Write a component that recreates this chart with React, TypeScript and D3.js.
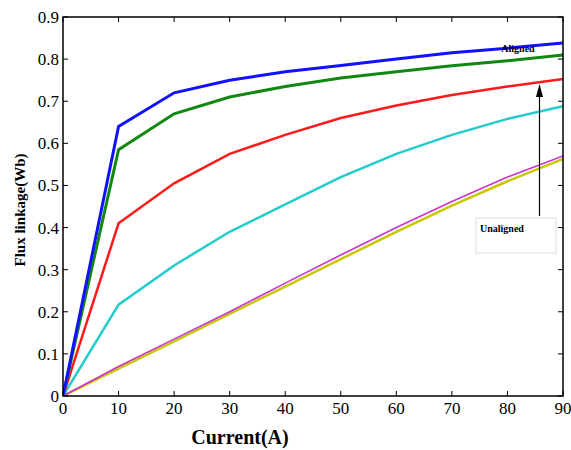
import React from "react";
import * as d3 from "d3";

const currents = [0, 10, 20, 30, 40, 50, 60, 70, 80, 90];
const blueSeries = [0, 0.64, 0.72, 0.75, 0.77, 0.785, 0.8, 0.815, 0.826, 0.838];
const greenSeries = [0, 0.585, 0.67, 0.71, 0.735, 0.755, 0.77, 0.784, 0.796, 0.81];
const redSeries = [0, 0.41, 0.505, 0.575, 0.62, 0.66, 0.69, 0.715, 0.735, 0.753];
const cyanSeries = [0, 0.217, 0.31, 0.39, 0.455, 0.52, 0.575, 0.62, 0.658, 0.688];
const magentaSeries = [0, 0.07, 0.135, 0.2, 0.268, 0.335, 0.4, 0.462, 0.52, 0.57];
const yellowSeries = [0, 0.065, 0.13, 0.195, 0.26, 0.325, 0.39, 0.452, 0.51, 0.563];
const xTicks = [0, 10, 20, 30, 40, 50, 60, 70, 80, 90];
const yTicks = [0, 0.1, 0.2, 0.3, 0.4, 0.5, 0.6, 0.7, 0.8, 0.9];

const series = [
  { values: yellowSeries, color: "#c8c800", width: 2.5 },
  { values: magentaSeries, color: "#cc33cc", width: 1.6 },
  { values: cyanSeries, color: "#22cccc", width: 2.5 },
  { values: redSeries, color: "#ff1a1a", width: 2.5 },
  { values: greenSeries, color: "#118811", width: 3 },
  { values: blueSeries, color: "#1111ff", width: 3 },
];

export default function App() {
  const W = 571, H = 450;
  const left = 63, right = 563, top = 17, bottom = 396;
  const x = d3.scaleLinear().domain([0, 90]).range([left, right]);
  const y = d3.scaleLinear().domain([0, 0.9]).range([bottom, top]);
  const line = d3
    .line<number>()
    .x((_, i) => x(currents[i]))
    .y((d) => y(d));
  const font = "'Liberation Serif', 'DejaVu Serif', serif";
  const tl = 5;
  return (
    <svg width={W} height={H} style={{ position: "absolute", left: 0, top: 0, background: "#fff" }}>
      <rect x={0} y={0} width={W} height={H} fill="#fff" />
      <defs>
        <clipPath id="clip">
          <rect x={left} y={top} width={right - left} height={bottom - top} />
        </clipPath>
      </defs>
      <g clipPath="url(#clip)">
        {series.map((s, i) => (
          <path key={i} d={line(s.values) || ""} fill="none" stroke={s.color} strokeWidth={s.width} />
        ))}
      </g>
      <rect x={left} y={top} width={right - left} height={bottom - top} fill="none" stroke="#000" strokeWidth={1.5} />
      {xTicks.map((t) => (
        <g key={"x" + t}>
          <line x1={x(t)} x2={x(t)} y1={bottom} y2={bottom - tl} stroke="#000" />
          <line x1={x(t)} x2={x(t)} y1={top} y2={top + tl} stroke="#000" />
          <text x={x(t)} y={bottom + 18} textAnchor="middle" fontFamily={font} fontSize={17} fill="#000">
            {t}
          </text>
        </g>
      ))}
      {yTicks.map((t) => (
        <g key={"y" + t}>
          <line x1={left} x2={left + tl} y1={y(t)} y2={y(t)} stroke="#000" />
          <line x1={right} x2={right - tl} y1={y(t)} y2={y(t)} stroke="#000" />
          <text x={left - 4} y={y(t) + 6} textAnchor="end" fontFamily={font} fontSize={17} fill="#000">
            {t === 0 ? "0" : t.toFixed(1)}
          </text>
        </g>
      ))}
      <text x={240} y={444} textAnchor="middle" fontFamily={font} fontSize={20} fontWeight="bold" fill="#000">
        Current(A)
      </text>
      <text
        transform={`translate(25, ${210}) rotate(-90)`}
        textAnchor="middle"
        fontFamily={font}
        fontSize={15}
        fontWeight="bold"
        fill="#000"
      >
        Flux linkage(Wb)
      </text>
      <text x={518} y={52} textAnchor="middle" fontFamily={font} fontSize={10} fontWeight="bold" fill="#000">
        Aligned
      </text>
      <line x1={539.5} x2={539.5} y1={216} y2={92} stroke="#000" strokeWidth={1.2} />
      <path d="M539.5,84 L536,97 L543,97 Z" fill="#000" />
      <rect x={476} y={218} width={80} height={35} fill="#fff" stroke="#ddd" strokeWidth={1} />
      <text x={480} y={232} fontFamily={font} fontSize={10} fontWeight="bold" fill="#000">
        Unaligned
      </text>
    </svg>
  );
}
